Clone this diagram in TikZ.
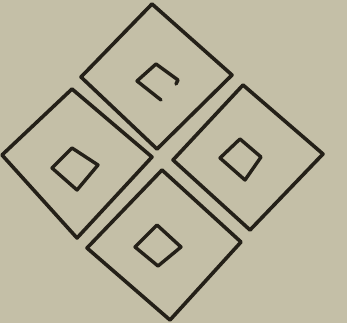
\documentclass[tikz,border=0pt]{standalone}
\begin{document}
\begin{tikzpicture}[x=1pt,y=-1pt,
  ink/.style={draw=inkc,line width=3.6pt,line join=round,line cap=round},
  thinink/.style={draw=inkc,line width=3.4pt,line join=round,line cap=round}]
\definecolor{paper}{RGB}{196,191,167}
\definecolor{inkc}{RGB}{36,32,24}
\fill[paper] (0,0) rectangle (347,323);
\useasboundingbox (0,0) rectangle (347,323);
% top diamond
\coordinate (tT) at (152,4); \coordinate (tR) at (232,75);
\coordinate (tB) at (157,149); \coordinate (tL) at (81,77);
\draw[ink] (tT) -- (tR) -- (tB) -- (tL) -- cycle;
\coordinate (itL) at (137,81); \coordinate (itT) at (156,64);
\coordinate (itR) at (178,80); \coordinate (itB) at (161,100);
\coordinate (itS) at (176,84);
\draw[thinink] (itS) -- (itR) -- (itT) -- (itL) -- (itB);
% left diamond
\coordinate (lT) at (72,89); \coordinate (lR) at (152,157);
\coordinate (lB) at (77,238); \coordinate (lL) at (2,155);
\draw[ink] (lT) -- (lR) -- (lB) -- (lL) -- cycle;
\coordinate (ilT) at (72,148); \coordinate (ilR) at (98,165);
\coordinate (ilB) at (77,190); \coordinate (ilL) at (52,168);
\draw[thinink] (ilT) -- (ilR) -- (ilB) -- (ilL) -- cycle;
% right diamond
\coordinate (rT) at (243,85); \coordinate (rR) at (323,154);
\coordinate (rB) at (250,230); \coordinate (rL) at (173,160);
\draw[ink] (rT) -- (rR) -- (rB) -- (rL) -- cycle;
\coordinate (irT) at (240,139); \coordinate (irR) at (261,157);
\coordinate (irB) at (245,180); \coordinate (irL) at (220,158);
\draw[thinink] (irT) -- (irR) -- (irB) -- (irL) -- cycle;
% bottom diamond
\coordinate (bT) at (162,170); \coordinate (bR) at (241,242);
\coordinate (bB) at (170,320); \coordinate (bL) at (87,248);
\draw[ink] (bT) -- (bR) -- (bB) -- (bL) -- cycle;
\coordinate (ibT) at (157,225); \coordinate (ibR) at (181,247);
\coordinate (ibB) at (158,266); \coordinate (ibL) at (135,247);
\draw[thinink] (ibT) -- (ibR) -- (ibB) -- (ibL) -- cycle;
\end{tikzpicture}
\end{document}
